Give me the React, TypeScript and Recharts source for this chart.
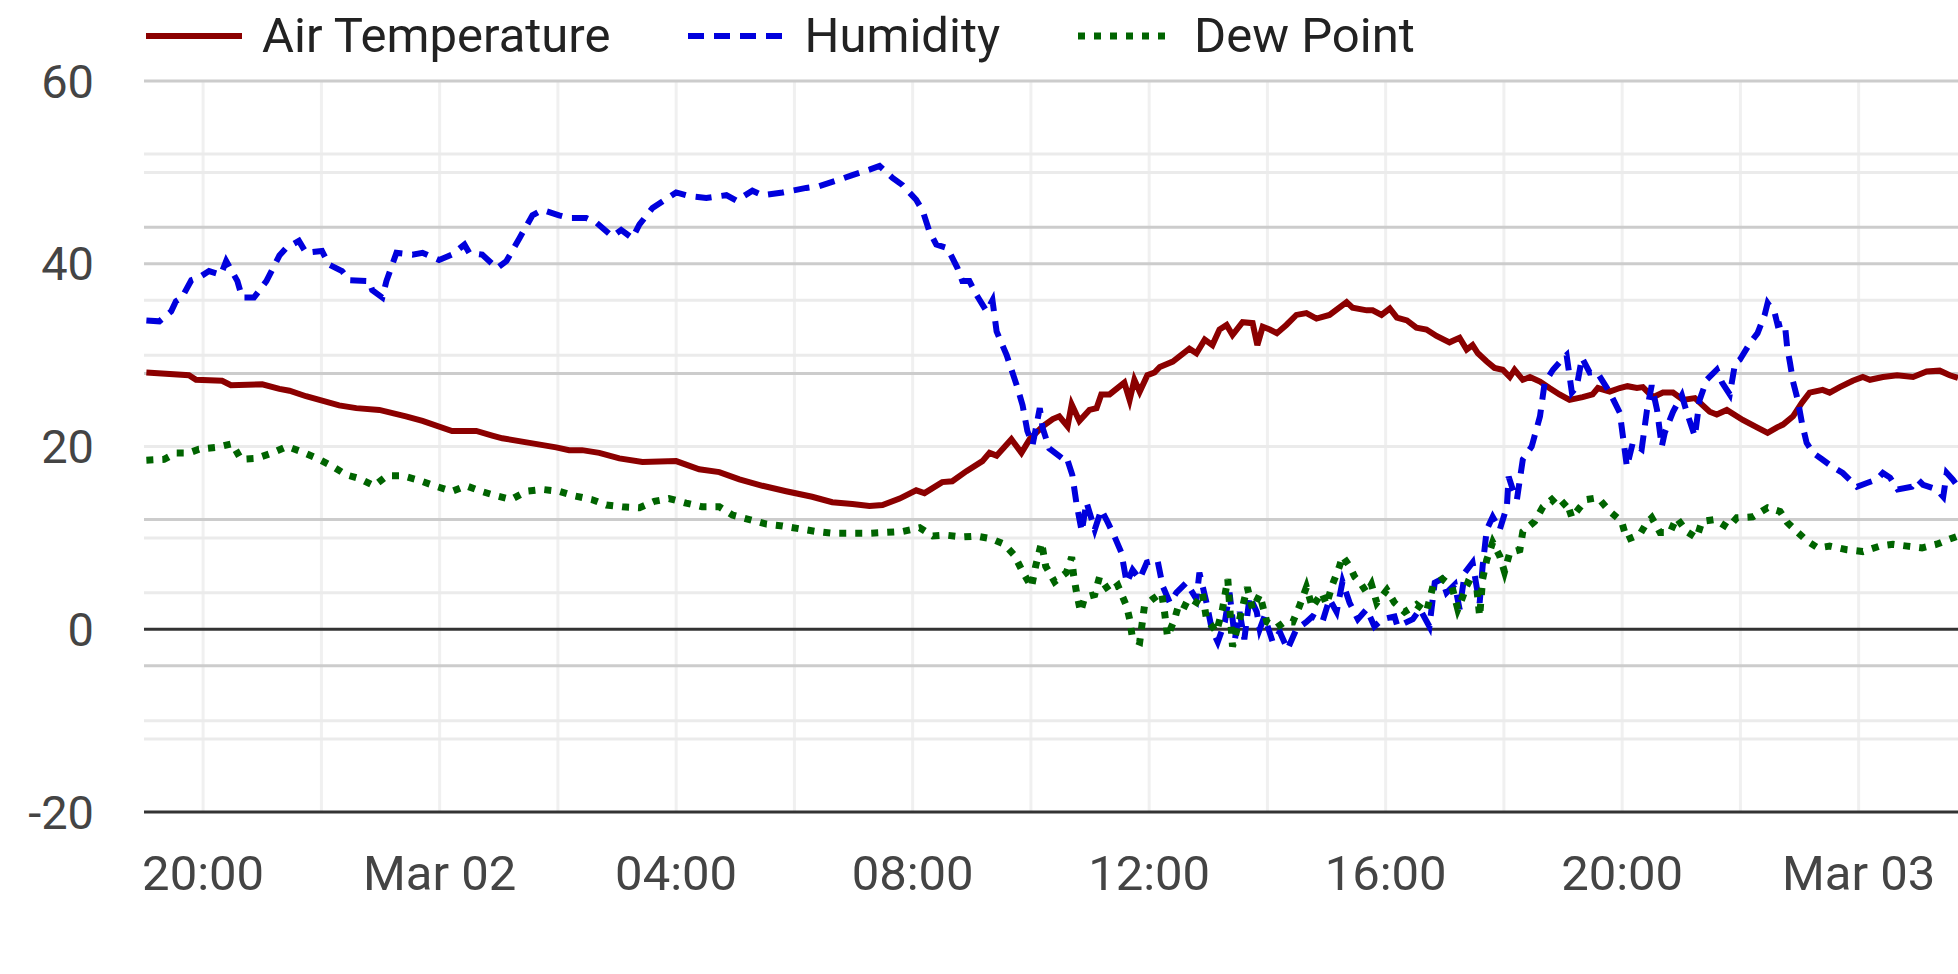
import React from "react";
import { LineChart, Line, XAxis, YAxis, CartesianGrid } from "recharts";

// hours counted from Mar 01 00:00
const tempHours = [19.04,19.76,19.88,20.32,20.47,21.0,21.29,21.46,21.74,22.3,22.59,22.98,23.43,23.71,24.21,24.62,24.89,25.06,25.52,25.97,26.19,26.41,26.7,27.04,27.43,28.0,28.39,28.73,29.07,29.46,29.86,30.3,30.64,30.98,31.27,31.49,31.78,32.06,32.2,32.5,32.67,32.91,33.18,33.3,33.42,33.67,33.84,33.98,34.2,34.37,34.48,34.62,34.69,34.82,34.99,35.11,35.19,35.33,35.58,35.67,35.75,35.84,35.97,36.09,36.18,36.4,36.68,36.8,36.94,37.07,37.19,37.31,37.41,37.58,37.75,37.83,37.92,38.04,38.16,38.32,38.49,38.66,38.83,39.05,39.34,39.44,39.68,39.78,39.93,40.07,40.19,40.36,40.52,40.69,40.86,41.08,41.25,41.37,41.47,41.56,41.71,41.84,41.98,42.1,42.18,42.32,42.44,42.61,42.77,42.94,43.11,43.33,43.5,43.59,43.79,43.96,44.09,44.25,44.35,44.52,44.69,44.86,45.03,45.23,45.48,45.6,45.77,46.04,46.28,46.46,46.62,46.72,46.89,47.04,47.17,47.39,47.51,47.68,47.9,48.07,48.19,48.41,48.65,48.92,49.15,49.37,49.54,49.68];
const tempValues = [28.1,27.8,27.3,27.2,26.7,26.8,26.3,26.1,25.5,24.5,24.2,24.0,23.3,22.8,21.7,21.7,21.2,20.9,20.4,19.9,19.6,19.6,19.3,18.7,18.3,18.4,17.5,17.2,16.4,15.7,15.1,14.5,13.9,13.7,13.5,13.6,14.3,15.2,14.9,16.1,16.2,17.3,18.4,19.3,19.0,20.8,19.3,20.8,22.2,23.0,23.3,22.2,24.6,22.8,24.0,24.2,25.7,25.7,27.0,25.1,27.3,26.0,27.8,28.1,28.7,29.3,30.7,30.2,31.7,31.1,32.8,33.3,32.2,33.6,33.5,31.1,33.1,32.8,32.4,33.3,34.4,34.6,34.0,34.4,35.8,35.2,34.9,34.9,34.4,35.1,34.1,33.8,33.0,32.8,32.1,31.4,31.9,30.6,31.1,30.2,29.3,28.6,28.4,27.6,28.4,27.3,27.6,27.1,26.4,25.7,25.1,25.4,25.7,26.4,26.0,26.4,26.6,26.4,26.5,25.4,25.9,25.9,25.1,25.3,23.8,23.5,24.0,22.9,22.1,21.5,22.1,22.4,23.3,24.8,25.9,26.2,25.9,26.5,27.2,27.6,27.3,27.6,27.8,27.6,28.2,28.3,27.8,27.5];

const humHours = [19.04,19.26,19.46,19.54,19.64,19.8,19.93,20.1,20.3,20.39,20.58,20.66,20.86,21.07,21.29,21.4,21.62,21.74,22.01,22.13,22.35,22.47,22.81,22.86,23.03,23.1,23.27,23.54,23.71,23.99,24.21,24.42,24.5,24.72,24.97,25.13,25.35,25.57,25.74,26.02,26.19,26.48,26.65,26.92,27.07,27.26,27.38,27.6,28.0,28.22,28.51,28.85,29.02,29.29,29.46,29.8,30.2,30.42,30.76,30.98,31.27,31.44,31.66,31.83,32.06,32.17,32.28,32.4,32.59,32.76,32.84,32.96,33.08,33.25,33.35,33.42,33.59,33.76,33.86,33.94,34.03,34.15,34.2,34.31,34.53,34.6,34.7,34.77,34.86,34.94,35.08,35.19,35.3,35.41,35.53,35.62,35.72,35.84,35.96,36.14,36.23,36.35,36.46,36.63,36.8,36.85,36.97,37.06,37.16,37.28,37.36,37.45,37.53,37.61,37.7,37.82,37.87,37.95,38.09,38.21,38.34,38.49,38.66,38.76,38.93,39.05,39.17,39.27,39.39,39.53,39.68,39.81,39.95,40.15,40.2,40.46,40.58,40.74,40.83,40.95,41.03,41.17,41.25,41.34,41.47,41.54,41.59,41.64,41.71,41.81,41.93,42.05,42.08,42.15,42.22,42.32,42.47,42.61,42.69,42.83,42.98,43.06,43.15,43.23,43.32,43.45,43.57,43.79,43.96,44.08,44.18,44.33,44.42,44.5,44.59,44.67,44.72,44.86,45.01,45.09,45.23,45.31,45.43,45.6,45.69,45.82,45.91,45.99,46.16,46.29,46.41,46.46,46.58,46.63,46.75,46.79,46.84,46.89,46.97,47.04,47.12,47.23,47.38,47.55,47.73,47.97,48.14,48.31,48.41,48.53,48.66,48.9,49.0,49.09,49.32,49.43,49.49,49.59,49.68];
const humValues = [33.8,33.7,34.8,35.9,36.3,38.2,38.5,39.2,38.8,40.3,38.1,36.3,36.3,38.1,40.9,41.7,42.5,41.2,41.4,39.9,39.2,38.2,38.1,37.1,36.3,38.1,41.2,41.0,41.2,40.4,41.0,42.1,41.2,41.0,39.5,40.3,42.8,45.3,45.9,45.3,45.0,45.0,44.5,43.0,43.7,42.8,44.3,46.1,47.8,47.4,47.2,47.5,46.9,48.0,47.5,47.8,48.3,48.5,49.2,49.7,50.3,50.7,49.4,48.6,47.0,45.8,43.6,42.1,41.7,39.5,38.1,38.1,36.6,34.8,36.0,32.6,30.0,26.7,24.5,21.7,20.2,24.2,22.0,19.8,18.7,18.9,16.9,13.8,10.7,13.9,10.9,13.1,11.7,10.2,8.4,5.1,6.5,5.5,7.3,7.6,4.7,2.9,4.0,5.1,3.3,6.2,2.9,0.0,-1.4,0.8,4.0,-1.1,1.9,-1.1,3.6,1.9,0.0,1.4,-1.4,-0.3,-2.2,0.0,0.8,1.4,0.8,3.3,1.9,5.2,2.9,1.1,2.2,0.3,1.1,1.4,0.3,1.1,2.2,0.3,5.1,5.5,4.0,4.9,2.2,6.2,7.3,4.6,2.9,6.9,10.9,12.3,10.9,13.4,16.7,15.3,14.2,18.6,20.0,23.3,27.0,28.4,29.5,30.0,25.9,26.5,29.7,28.1,28.2,25.9,23.7,17.8,20.4,19.7,24.0,26.7,24.0,20.0,21.5,23.8,25.6,23.8,21.1,25.1,27.3,28.4,27.0,25.7,29.1,29.5,31.3,32.4,34.4,35.7,34.6,33.3,33.5,30.9,29.1,27.1,25.1,22.6,20.4,19.3,18.6,17.8,17.1,15.6,16.0,16.4,17.1,16.6,15.3,15.6,16.4,15.8,15.3,14.5,17.1,16.4,15.6];

const dewHours = [19.04,19.34,19.54,19.76,19.93,20.22,20.49,20.64,20.9,21.17,21.42,21.68,21.93,22.17,22.42,22.64,22.89,23.11,23.37,23.65,23.91,24.21,24.45,24.7,24.96,25.21,25.47,25.74,26.02,26.28,26.57,26.82,27.09,27.38,27.63,27.88,28.17,28.44,28.73,28.95,29.24,29.53,29.8,30.08,30.37,30.64,30.98,31.27,31.56,31.83,32.12,32.34,32.57,32.84,33.08,33.33,33.55,33.72,33.86,34.01,34.08,34.18,34.25,34.4,34.6,34.69,34.72,34.77,34.84,34.91,35.08,35.16,35.33,35.47,35.62,35.67,35.72,35.84,35.92,36.06,36.21,36.26,36.31,36.43,36.51,36.73,36.9,36.97,37.14,37.24,37.33,37.41,37.53,37.66,37.75,37.87,37.99,38.16,38.29,38.43,38.54,38.66,38.76,38.92,39.0,39.1,39.22,39.27,39.39,39.48,39.59,39.68,39.76,39.85,40.02,40.15,40.32,40.52,40.69,40.8,40.96,41.12,41.22,41.29,41.39,41.54,41.59,41.64,41.71,41.81,41.93,42.01,42.1,42.27,42.32,42.52,42.66,42.81,42.94,43.06,43.15,43.28,43.4,43.59,43.79,43.99,44.08,44.3,44.42,44.5,44.64,44.81,44.92,45.09,45.26,45.35,45.57,45.79,45.94,46.21,46.46,46.67,46.79,46.97,47.14,47.31,47.51,47.8,48.07,48.36,48.58,48.82,49.07,49.32,49.51,49.68];
const dewValues = [18.5,18.6,19.3,19.3,19.7,19.9,20.3,18.6,18.7,19.3,20.0,19.4,18.7,17.9,16.9,16.5,15.7,16.8,16.8,16.3,15.7,15.1,15.7,15.1,14.6,14.2,15.1,15.3,15.1,14.6,14.2,13.6,13.4,13.3,14.0,14.3,13.8,13.4,13.4,12.5,12.0,11.5,11.3,11.0,10.7,10.5,10.5,10.5,10.6,10.7,11.1,10.2,10.3,10.1,10.2,9.9,9.3,8.1,6.3,4.6,6.9,9.5,6.9,5.2,6.2,7.9,6.0,4.1,1.9,3.5,3.8,5.7,4.1,4.8,2.5,1.1,-1.1,-1.4,2.5,3.3,4.0,1.9,-0.8,1.1,2.9,2.2,4.0,1.1,-0.3,2.2,5.5,-1.9,1.1,4.6,2.2,3.8,0.8,0.2,0.8,0.8,2.5,4.6,2.4,4.0,2.7,4.9,6.9,8.0,6.9,5.7,4.9,4.0,4.9,2.9,4.3,2.9,1.9,2.7,1.9,4.7,5.5,4.7,2.2,3.3,5.1,4.6,1.4,5.5,7.6,9.5,8.0,6.3,8.4,8.7,10.7,11.8,13.4,14.2,13.3,14.0,12.2,13.3,14.2,14.4,12.9,11.8,9.8,10.4,11.7,12.2,10.6,10.6,12.2,10.7,10.0,11.8,12.0,11.1,12.2,12.3,13.3,12.9,11.7,10.6,9.6,8.9,9.1,8.7,8.5,9.1,9.3,9.1,8.9,9.3,9.8,10.2];

const xDomain = [19, 49.68];
const xTicks = [20, 24, 28, 32, 36, 40, 44, 48];
const xTickLabels = ["20:00", "Mar 02", "04:00", "08:00", "12:00", "16:00", "20:00", "Mar 03"];
const xGridHours = [20, 22, 24, 26, 28, 30, 32, 34, 36, 38, 40, 42, 44, 46, 48];

const yDomain = [-20, 60];
const yTicks = [60, 40, 20, 0, -20];
const yGridMajor = [60, 44, 40, 28, 12, -4];
const yGridMinor = [52, 50, 36, 30, 20, 10, 4, -10, -12];
const yZero = [0];

const series = [
  { key: "temp", name: "Air Temperature", color: "#8b0000", dash: undefined, width: 6, hours: tempHours, values: tempValues },
  { key: "hum", name: "Humidity", color: "#0000dd", dash: "16 10", width: 6, hours: humHours, values: humValues },
  { key: "dew", name: "Dew Point", color: "#006400", dash: "7 9", width: 7, hours: dewHours, values: dewValues },
];

const FONT = "Roboto, 'Noto Sans', sans-serif";

function LegendRow() {
  return (
    <div style={{ position: "absolute", left: 146, top: 8, display: "flex", alignItems: "center", fontFamily: FONT, fontSize: 49, color: "#222", lineHeight: "56px" }}>
      {series.map(s => (
        <div key={s.key} style={{ display: "flex", alignItems: "center", marginRight: 78 }}>
          <svg width={96} height={12} style={{ marginRight: 20 }}>
            <line x1={0} y1={6} x2={96} y2={6} stroke={s.color} strokeWidth={s.width} strokeDasharray={s.dash} />
          </svg>
          <span>{s.name}</span>
        </div>
      ))}
    </div>
  );
}

export default function App() {
  const lines = series.map(s => ({ ...s, data: s.hours.map((t, i) => ({ t, v: s.values[i] })) }));
  return (
    <div style={{ position: "absolute", left: 0, top: 0, width: 1958, height: 974, background: "#fff" }}>
      <LineChart width={1958} height={974} margin={{ top: 81, right: 0, bottom: 132, left: 0 }}>
        <CartesianGrid horizontal={false} verticalValues={xGridHours} stroke="#f0f0f0" strokeWidth={3} />
        <CartesianGrid vertical={false} horizontalValues={yGridMinor} stroke="#ebebeb" strokeWidth={3} />
        <CartesianGrid vertical={false} horizontalValues={yGridMajor} stroke="#cccccc" strokeWidth={3} />
        <CartesianGrid vertical={false} horizontalValues={yZero} stroke="#333333" strokeWidth={3} />
        <XAxis
          dataKey="t"
          type="number"
          domain={xDomain}
          allowDataOverflow
          ticks={xTicks}
          tickFormatter={v => xTickLabels[xTicks.indexOf(v)] ?? ""}
          tickLine={false}
          tickSize={0}
          tickMargin={43}
          axisLine={{ stroke: "#333333", strokeWidth: 3 }}
          tick={{ fontSize: 49, fill: "#444", fontFamily: FONT }}
          interval={0}
        />
        <YAxis
          type="number"
          domain={yDomain}
          ticks={yTicks}
          width={144}
          axisLine={false}
          tickLine={false}
          tickSize={0}
          tickMargin={50}
          tick={{ fontSize: 47, fill: "#444", fontFamily: FONT }}
          interval={0}
        />
        {lines.map(s => (
          <Line
            key={s.key}
            data={s.data}
            dataKey="v"
            name={s.name}
            type="linear"
            stroke={s.color}
            strokeWidth={s.width}
            strokeDasharray={s.dash}
            dot={false}
            activeDot={false}
            isAnimationActive={false}
          />
        ))}
      </LineChart>
      <LegendRow />
    </div>
  );
}
